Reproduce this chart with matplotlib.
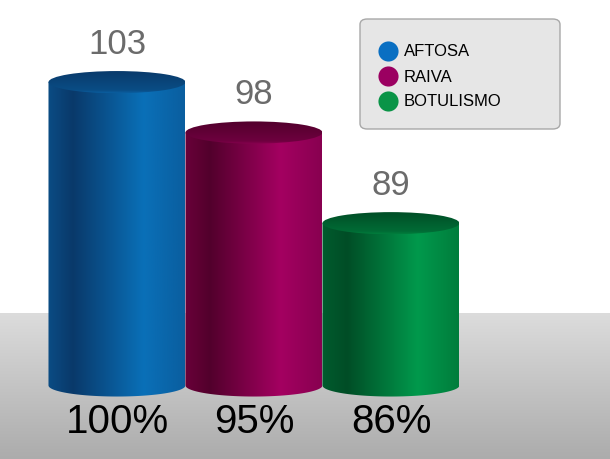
import numpy as np
import matplotlib
matplotlib.use("Agg")
import matplotlib.pyplot as plt
from matplotlib.colors import LinearSegmentedColormap
from matplotlib.patches import Ellipse, Polygon, FancyBboxPatch

plt.rcParams['font.family'] = ['Liberation Sans Narrow', 'Liberation Sans', 'DejaVu Sans']

# data
diseases = ['AFTOSA', 'RAIVA', 'BOTULISMO']
counts = [103, 98, 89]
percents = ['100%', '95%', '86%']

# shading per cylinder: edge, dark, light, right edge, cap, legend dot
shades = {
    'AFTOSA':    ['#0b4c84', '#09396a', '#0a70b8', '#0a5e9f', '#0a4d85', '#0a6fc2'],
    'RAIVA':     ['#6a0039', '#52002c', '#a40061', '#880050', '#6e003f', '#9b0061'],
    'BOTULISMO': ['#005c2e', '#004d26', '#00994c', '#007d3c', '#006b35', '#0a9447'],
}

base = 72.9          # value where the cylinders stand
ylo, yhi = 65.6, 111.25
cap_h = 2.2          # ellipse height in value units

fig = plt.figure(figsize=(6.1, 4.6), dpi=100)
ax = fig.add_axes([0, 0, 1, 1])
ax.set_xlim(-0.854, 3.599)
ax.set_ylim(ylo, yhi)
ax.axis('off')

# grey floor
floor = np.linspace(0, 1, 200).reshape(-1, 1)
floor_cmap = LinearSegmentedColormap.from_list('floor', ['#acacac', '#dcdcdc'])
ax.imshow(floor, cmap=floor_cmap, aspect='auto', origin='lower',
          extent=(0, 1, 0, 0.317), transform=ax.transAxes, zorder=0)

for i, (name, val) in enumerate(zip(diseases, counts)):
    edge, dark, light, right, cap, _ = shades[name]
    body_cmap = LinearSegmentedColormap.from_list(
        name, [(0, edge), (0.18, dark), (0.7, light), (1, right)])
    grad = np.linspace(0, 1, 256).reshape(1, -1)

    # body: rectangle plus lower half ellipse
    th = np.linspace(np.pi, 2 * np.pi, 60)
    pts = [(i - 0.5, val), (i - 0.5, base)]
    pts += list(zip(i + 0.5 * np.cos(th), base + cap_h / 2 * np.sin(th)))
    pts += [(i + 0.5, val)]
    body = Polygon(pts, closed=True, facecolor='none', edgecolor='none')
    ax.add_patch(body)
    im = ax.imshow(grad, cmap=body_cmap, aspect='auto',
                   extent=(i - 0.5, i + 0.5, base - cap_h / 2, val), zorder=2 + i)
    im.set_clip_path(body)

    # top cap, lighter rim at the front
    cap_cmap = LinearSegmentedColormap.from_list(
        name + '_cap', [(0, right), (0.12, cap), (1, dark)])
    top = Ellipse((i, val), 1.0, cap_h, facecolor='none', edgecolor='none')
    ax.add_patch(top)
    imc = ax.imshow(np.linspace(0, 1, 64).reshape(-1, 1), cmap=cap_cmap, aspect='auto',
                    origin='lower', extent=(i - 0.5, i + 0.5, val - cap_h / 2, val + cap_h / 2),
                    zorder=2.5 + i)
    imc.set_clip_path(top)

    ax.annotate(str(val), (i, val + cap_h / 2), xytext=(0, 8), textcoords='offset points',
                ha='center', va='bottom', fontsize=25, color='#6b6b6b', zorder=10)
    ax.annotate(percents[i], (i, base - cap_h / 2), xytext=(0, -4), textcoords='offset points',
                ha='center', va='top', fontsize=29, color='black', zorder=10)

ax.set_xlim(-0.854, 3.599)
ax.set_ylim(ylo, yhi)

# legend box
box = FancyBboxPatch((360 / 610, 1 - 130 / 460), 200 / 610, 110 / 460,
                     boxstyle='round,pad=0,rounding_size=0.012',
                     transform=ax.transAxes, facecolor='#e6e6e6', edgecolor='#a8a8a8',
                     linewidth=1, zorder=5)
ax.add_patch(box)
for k, name in enumerate(diseases):
    yy = 1 - (52 + 25 * k) / 460
    ax.scatter([388 / 610], [yy], s=210, color=shades[name][5], transform=ax.transAxes,
               zorder=6, linewidths=0)
    ax.text(404 / 610, yy, name, transform=ax.transAxes, va='center', ha='left',
            fontsize=12, color='black', zorder=6)

fig.savefig('out.png', dpi=100)
